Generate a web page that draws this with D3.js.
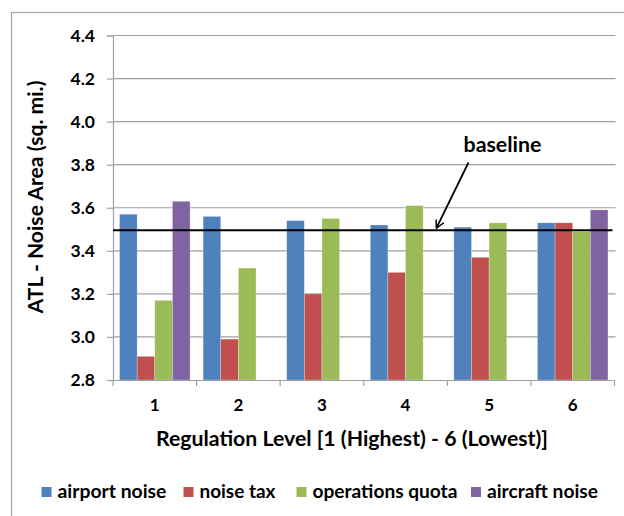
<!DOCTYPE html>
<html>
<head>
<meta charset="utf-8">
<script src="https://cdn.jsdelivr.net/npm/d3@7"></script>
<style>
  html, body { margin: 0; padding: 0; background: #fff; }
  svg { display: block; }
  text { font-family: Lato, "Open Sans", sans-serif; font-weight: bold; fill: #000; }
</style>
</head>
<body>
<svg id="chart" width="624" height="516"></svg>
<script>
// Regulation levels on the x axis
const levels = ["1", "2", "3", "4", "5", "6"];
const seriesNames = ["airport noise", "noise tax", "operations quota", "aircraft noise"];
const seriesColors = ["#4F81BD", "#C0504D", "#9BBB59", "#8064A2"];

// Noise area (sq. mi.) per regulation level; null = not modelled
const airportNoise    = [3.57, 3.56, 3.54, 3.52, 3.51, 3.53];
const noiseTax        = [2.91, 2.99, 3.20, 3.30, 3.37, 3.53];
const operationsQuota = [3.17, 3.32, 3.55, 3.61, 3.53, 3.49];
const aircraftNoise   = [3.63, null, null, null, null, 3.59];

const yTicks = [2.8, 3.0, 3.2, 3.4, 3.6, 3.8, 4.0, 4.2, 4.4];
const baselineValue = 3.495;

const seriesValues = [airportNoise, noiseTax, operationsQuota, aircraftNoise];

const svg = d3.select("#chart");

// scale a text element's font size so it spans the given width
function fitWidth(sel, width) {
  sel.each(function () {
    const node = this;
    const fs = parseFloat(d3.select(node).attr("font-size")) || 16;
    const w = node.getComputedTextLength();
    if (w > 0) d3.select(node).attr("font-size", (fs * width / w).toFixed(2));
  });
  return sel;
}

// outer frame of the chart area
svg.append("rect")
  .attr("x", 11.5).attr("y", 12.5)
  .attr("width", 640).attr("height", 540)
  .attr("fill", "none").attr("stroke", "#a6a6a6").attr("stroke-width", 1.2);

const plot = { left: 113, right: 614.5, top: 35.5, bottom: 380 };

const x = d3.scaleBand().domain(levels).range([plot.left, plot.right]).paddingInner(0).paddingOuter(0);
const y = d3.scaleLinear().domain([2.8, 4.4]).range([plot.bottom, plot.top]);
const xInner = d3.scaleBand().domain(seriesNames).range([0, x.bandwidth()]).paddingInner(0).paddingOuter(0.37);

// horizontal gridlines
svg.append("g").selectAll("line").data(yTicks.slice(1)).join("line")
  .attr("x1", plot.left).attr("x2", plot.right + 1)
  .attr("y1", d => y(d)).attr("y2", d => y(d))
  .attr("stroke", "#a0a0a0").attr("stroke-width", 1.2);

// y axis
const yAxis = svg.append("g").attr("transform", `translate(${plot.left},0)`)
  .call(d3.axisLeft(y).tickValues(yTicks).tickFormat(d3.format(".1f")).tickSize(6).tickPadding(12));
yAxis.select(".domain").attr("stroke", "#a0a0a0").attr("stroke-width", 1.2);
yAxis.selectAll(".tick line").attr("stroke", "#a0a0a0").attr("stroke-width", 1.2);
yAxis.selectAll(".tick text").attr("font-size", 17.5).attr("font-family", "Lato").attr("font-weight", "bold").attr("fill", "#000");

// bars
const groups = svg.append("g").selectAll("g").data(levels).join("g")
  .attr("transform", d => `translate(${x(d)},0)`);
groups.selectAll("rect")
  .data((lvl, i) => seriesNames.map((s, k) => ({ s, k, v: seriesValues[k][i] })).filter(d => d.v != null))
  .join("rect")
  .attr("x", d => xInner(d.s))
  .attr("width", xInner.bandwidth())
  .attr("y", d => y(d.v))
  .attr("height", d => y(2.8) - y(d.v))
  .attr("fill", d => seriesColors[d.k])
  .attr("stroke", "rgba(255,255,255,0.45)").attr("stroke-width", 0.6);

// x axis
const xAxis = svg.append("g").attr("transform", `translate(0,${plot.bottom})`)
  .call(d3.axisBottom(x).tickSize(0).tickPadding(19));
xAxis.select(".domain").attr("stroke", "#a0a0a0").attr("stroke-width", 1.2);
xAxis.selectAll(".tick text").attr("font-size", 17).attr("font-family", "Lato").attr("font-weight", "bold").attr("fill", "#000");
// category separator ticks
svg.append("g").selectAll("line").data(levels.concat(["end"])).join("line")
  .attr("x1", (d, i) => i < levels.length ? x(d) : plot.right)
  .attr("x2", (d, i) => i < levels.length ? x(d) : plot.right)
  .attr("y1", plot.bottom).attr("y2", plot.bottom + 6)
  .attr("stroke", "#a0a0a0").attr("stroke-width", 1.2);

// baseline reference line
svg.append("line")
  .attr("x1", plot.left).attr("x2", plot.right - 2)
  .attr("y1", y(baselineValue)).attr("y2", y(baselineValue))
  .attr("stroke", "#000").attr("stroke-width", 2);

// annotation arrow
svg.append("defs").append("marker")
  .attr("id", "arrowhead").attr("viewBox", "0 0 10 10")
  .attr("refX", 9).attr("refY", 5)
  .attr("markerWidth", 9).attr("markerHeight", 9)
  .attr("markerUnits", "userSpaceOnUse")
  .attr("orient", "auto")
  .append("path").attr("d", "M0,0 L9.5,5 L0,10").attr("fill", "none").attr("stroke", "#000").attr("stroke-width", 1.6);
svg.append("line")
  .attr("x1", 468.5).attr("y1", 162.5)
  .attr("x2", 436.5).attr("y2", y(baselineValue) - 2.5)
  .attr("stroke", "#000").attr("stroke-width", 1.8)
  .attr("marker-end", "url(#arrowhead)");
svg.append("text")
  .attr("x", 502.5).attr("y", 151.5)
  .attr("text-anchor", "middle").attr("font-size", 21)
  .text("baseline")
  .call(fitWidth, 78);

// axis titles
svg.append("text")
  .attr("transform", "translate(43,197) rotate(-90)")
  .attr("text-anchor", "middle").attr("font-size", 18)
  .text("ATL - Noise Area (sq. mi.)")
  .call(fitWidth, 233);
svg.append("text")
  .attr("x", 352).attr("y", 445.5)
  .attr("text-anchor", "middle").attr("font-size", 18)
  .text("Regulation Level [1 (Highest) - 6 (Lowest)]")
  .call(fitWidth, 392);

// legend
const legendX = [41.5, 183.5, 296.5, 471];
const legendTextW = [109, 76, 145, 111];
const legend = svg.append("g").selectAll("g").data(seriesNames).join("g")
  .attr("transform", (d, i) => `translate(${legendX[i]},487)`);
legend.append("rect").attr("width", 10).attr("height", 10).attr("fill", (d, i) => seriesColors[i]);
legend.append("text").attr("x", 16).attr("y", 10.5).attr("font-size", 16).text(d => d)
  .each(function (d, i) { fitWidth(d3.select(this), legendTextW[i]); });
</script>
</body>
</html>
